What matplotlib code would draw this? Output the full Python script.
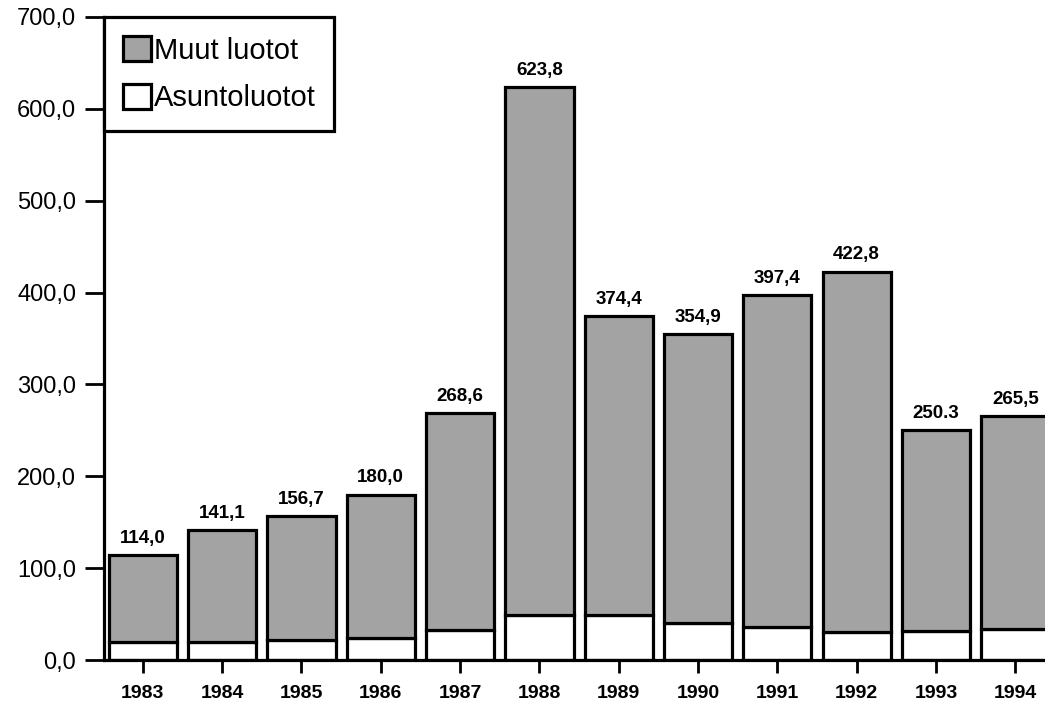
import matplotlib
matplotlib.use("Agg")
import matplotlib.pyplot as plt

years = ["1983", "1984", "1985", "1986", "1987", "1988", "1989", "1990", "1991", "1992", "1993", "1994"]
totals = [114.0, 141.1, 156.7, 180.0, 268.6, 623.8, 374.4, 354.9, 397.4, 422.8, 250.3, 265.5]
asuntoluotot = [20, 20, 22, 24, 33, 49, 49, 40, 36, 30, 32, 34]
total_labels = ["114,0", "141,1", "156,7", "180,0", "268,6", "623,8", "374,4", "354,9", "397,4", "422,8", "250.3", "265,5"]
muut_luotot = [t - a for t, a in zip(totals, asuntoluotot)]
yticks = [0, 100, 200, 300, 400, 500, 600, 700]
ytick_labels = ["0,0", "100,0", "200,0", "300,0", "400,0", "500,0", "600,0", "700,0"]

plt.rcParams['font.family'] = ['Liberation Sans', 'DejaVu Sans']

fig = plt.figure(figsize=(10.45, 7.04), dpi=100)
ax = fig.add_axes([104 / 1045, 44 / 704, (1045 - 104) / 1045, (660 - 17) / 704])

x = list(range(len(years)))
w = 0.86
lw = 2.3
ax.bar(x, asuntoluotot, width=w, color="white", edgecolor="black", linewidth=lw,
       label="Asuntoluotot", zorder=2)
ax.bar(x, muut_luotot, width=w, bottom=asuntoluotot, color="#a3a3a3", edgecolor="black",
       linewidth=lw, label="Muut luotot", zorder=2)

for xi, t, lab in zip(x, totals, total_labels):
    ax.annotate(lab, (xi, t), xytext=(0, 6), textcoords="offset points",
                ha="center", va="bottom", fontsize=13.5, fontweight="bold")

ax.set_xlim(-0.49, 11.375)
ax.set_ylim(0, 700)
ax.set_yticks(yticks)
ax.set_yticklabels(ytick_labels, fontsize=17)
ax.set_xticks(x)
ax.set_xticklabels(years, fontsize=14, fontweight="bold")
ax.tick_params(axis="y", direction="out", length=14, width=2, pad=6)
ax.tick_params(axis="x", direction="out", length=9, width=2, pad=9)

for s in ["top", "right"]:
    ax.spines[s].set_visible(False)
for s in ["left", "bottom"]:
    ax.spines[s].set_linewidth(2.3)

handles, labels = ax.get_legend_handles_labels()
leg = ax.legend(handles[::-1], labels[::-1], loc="upper left", bbox_to_anchor=(0, 1),
                borderaxespad=0, fontsize=21, frameon=True, fancybox=False,
                framealpha=1, edgecolor="black", handlelength=0.95, handleheight=0.95,
                handletextpad=0.1, labelspacing=0.65, borderpad=0.65)
leg.get_frame().set_linewidth(2.3)
leg.set_zorder(5)

fig.savefig("out.png", dpi=100)
